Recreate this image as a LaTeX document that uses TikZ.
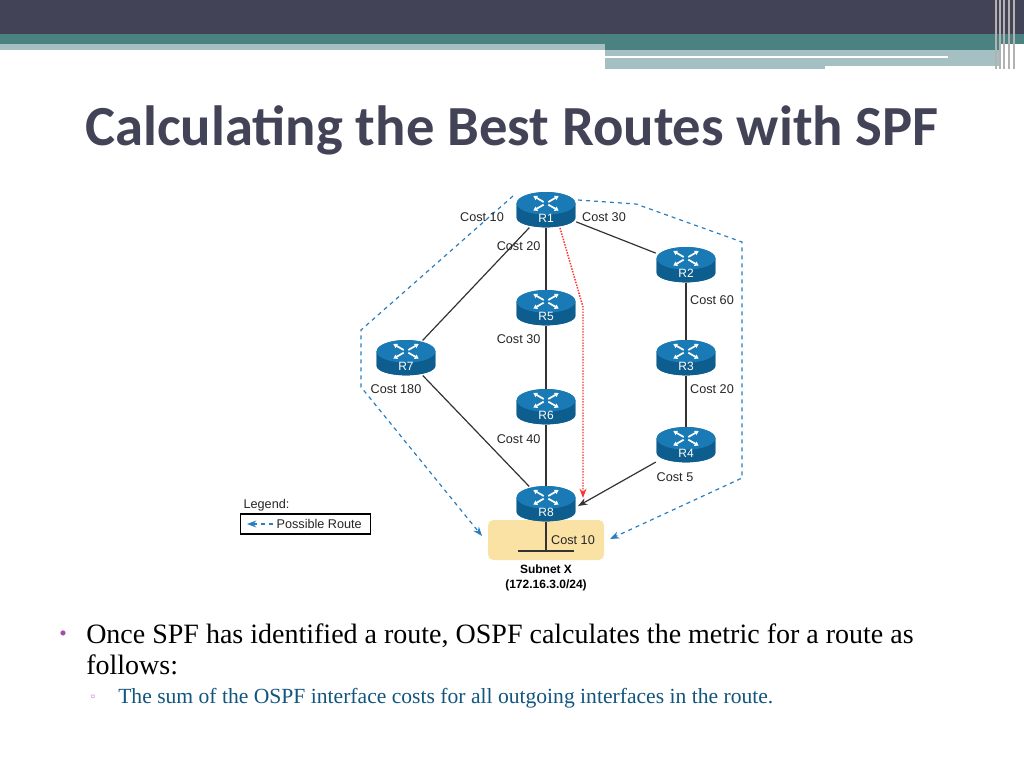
\documentclass[tikz,border=0pt]{standalone}
\usepackage{fontspec}
\setmainfont{Liberation Serif}
\newfontfamily\carl{Carlito}
\newfontfamily\lsans{Liberation Sans}
\usetikzlibrary{arrows.meta}
\definecolor{dark}{HTML}{434357}
\definecolor{teal1}{HTML}{4A8282}
\definecolor{lteal}{HTML}{A4C0C2}
\definecolor{rblue}{HTML}{1A7AB5}
\definecolor{rdark}{HTML}{0D5E8E}
\definecolor{dblue}{HTML}{2A7FC0}
\definecolor{box}{HTML}{FAE1A4}
\tikzset{
 link/.style={draw=black!80,line width=0.9pt},
 poss/.style={draw=dblue,dashed,line width=0.9pt,-{Stealth[length=7pt]}},
 cost/.style={font=\lsans\fontsize{9.5}{10}\selectfont,text=black!85,inner sep=1pt},
 rtr/.style={minimum width=45pt,minimum height=26pt,inner sep=0pt},
}
\newcommand{\router}[3]{%
 \node[rtr] (#1) at (#2) {};
 \fill[rdark] ([xshift=-22pt,yshift=5pt]#1.center) -- ([xshift=-22pt,yshift=-6pt]#1.center)
   arc[start angle=180,end angle=360,x radius=22pt,y radius=7pt] -- ([xshift=22pt,yshift=5pt]#1.center) -- cycle;
 \fill[rblue] ([yshift=5pt]#1.center) ellipse[x radius=22pt,y radius=8.5pt];
 \foreach \a in {30,150,210,330}{\draw[white,line width=1.3pt,-{Triangle[length=3pt,width=3.5pt]}] ([yshift=5pt]#1.center) ++(\a:2pt) -- ++(\a:9pt);}
 \node[font=\lsans\fontsize{9}{9}\selectfont,text=white] at ([yshift=-6pt]#1.center) {#3};}
\begin{document}
\begin{tikzpicture}[x=0.75pt,y=-0.75pt]
\useasboundingbox (0,0) rectangle (1024,768);
\fill[white] (0,0) rectangle (1024,768);
% top bar
\fill[dark] (0,0) rectangle (1024,34);
\fill[teal1] (0,34) rectangle (1024,44);
\fill[lteal] (0,44) rectangle (605,50);
\fill[teal1] (605,44) rectangle (1000,50);
\fill[lteal] (605,50) rectangle (1000,69);
\fill[white] (605,56) rectangle (948,58);
\fill[white] (825,66) rectangle (1000,69);
\foreach \x in {995,999,1003,1008,1013}{\fill[gray!60] (\x,0) rectangle (\x+1.5,69);}
% title
\node[font=\carl\bfseries\fontsize{42.5}{46}\selectfont,text=dark] (title) at (512,130) {Calculating the Best Routes with SPF};
% subnet box
\node[fill=box,rounded corners=4pt,minimum width=87pt,minimum height=30pt] (sub) at (546,540) {};
\coordinate (sl) at (518,551); \coordinate (sr) at (574,551); \coordinate (sm) at (546,551);
\coordinate (R4end) at (578,506);
% routers (placed first for anchors)
\router{R1}{546,210}{R1}
\router{R2}{686,265}{R2}
\router{R5}{546,308}{R5}
\router{R3}{686,358}{R3}
\router{R7}{406,358}{R7}
\router{R6}{546,407}{R6}
\router{R4}{686,445}{R4}
\router{R8}{546,504}{R8}
\draw[link] (R1) -- (R7);
\draw[link] (R1.south) -- (R5.north);
\draw[link] (R1) -- (R2);
\draw[link] (R5.south) -- (R6.north);
\draw[link] (R6.south) -- (R8.north);
\draw[link] (R2.south) -- (R3.north);
\draw[link] (R3.south) -- (R4.north);
\draw[link,-{Stealth[length=7pt]}] (R4) -- (R4end);
\draw[link] (R7) -- (R8);
\draw[link] (sl) -- (sr);
\draw[link] (sm) -- (R8.south);
% redraw routers on top
\router{R1}{546,210}{R1}
\router{R2}{686,265}{R2}
\router{R5}{546,308}{R5}
\router{R3}{686,358}{R3}
\router{R7}{406,358}{R7}
\router{R6}{546,407}{R6}
\router{R4}{686,445}{R4}
\router{R8}{546,504}{R8}
% possible routes
\draw[poss] (513,196) -- (361,330) -- (361,387) -- (482,536);
\draw[poss] (578,200) -- (636,204) -- (742,242) -- (742,478) -- (610,539);
\draw[red!80,densely dotted,line width=1.1pt,-{Stealth[length=7pt]}] (560,228) -- (583,307) -- (583,498);
% costs
\node[cost] at (482,217) {Cost 10};
\node[cost] at (604,217) {Cost 30};
\node[cost,anchor=east] at (542,246) {Cost 20};
\node[cost] at (712,300) {Cost 60};
\node[cost,anchor=east] at (542,339) {Cost 30};
\node[cost] at (396,389) {Cost 180};
\node[cost] at (712,389) {Cost 20};
\node[cost,anchor=east] at (542,439) {Cost 40};
\node[cost] at (675,477) {Cost 5};
\node[cost] at (573,540) {Cost 10};
\node[font=\lsans\bfseries\fontsize{9}{11}\selectfont,align=center] (subl) at (546,578) {Subnet X\\(172.16.3.0/24)};
% legend
\node[cost,anchor=west] (leg) at (242,505) {Legend:};
\node[draw=black,line width=0.9pt,minimum width=97pt,minimum height=15pt] (legbox) at (305.5,524) {};
\coordinate (la) at (247,524); \coordinate (lb) at (273,524);
\draw[poss] (lb) -- (la);
\node[cost,anchor=west] at (275,524) {Possible Route};
% bullets
\node[text=violet!70,font=\fontsize{16}{16}\selectfont] at (63,636) {•};
\node[anchor=west,font=\fontsize{21}{24}\selectfont,inner sep=0pt] at (86,636) {Once SPF has identified a route, OSPF calculates the metric for a route as};
\node[anchor=west,font=\fontsize{21}{24}\selectfont,inner sep=0pt] at (86,665) {follows:};
\node[font=\lsans\fontsize{9}{9}\selectfont,text=violet!60] at (93,698) {▫};
\node[anchor=west,font=\fontsize{16.2}{18}\selectfont,text=rblue!70!black,inner sep=0pt] at (118,698) {The sum of the OSPF interface costs for all outgoing interfaces in the route.};
\end{tikzpicture}
\end{document}
